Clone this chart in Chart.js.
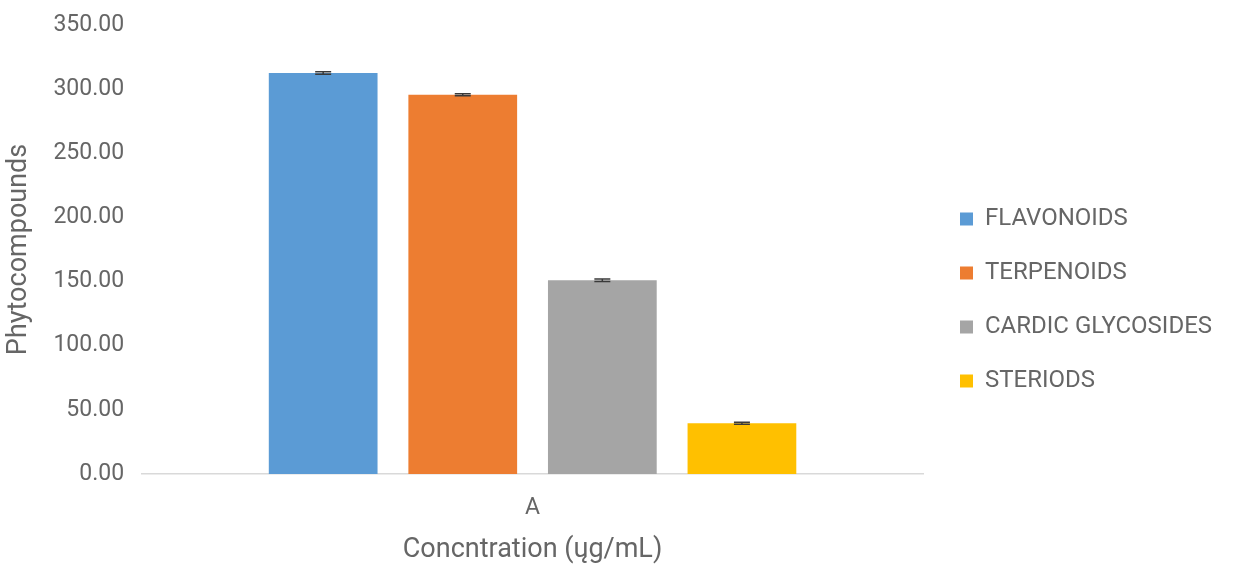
<!DOCTYPE html>
<html>
<head>
<meta charset="utf-8">
<script src="https://cdn.jsdelivr.net/npm/chart.js@4"></script>
<style>
  body { margin: 0; background: #fff; }
  #wrap { width: 1233px; height: 572px; }
</style>
</head>
<body>
<div id="wrap"><canvas id="phytoChart" width="1233" height="572"></canvas></div>
<script>
const categories = ["A"];
const seriesNames = ["FLAVONOIDS", "TERPENOIDS", "CARDIC GLYCOSIDES", "STERIODS"];
const seriesValues = [312.5, 295.5, 151.0, 39.5];
const seriesErrors = [1.0, 0.8, 0.9, 0.8];
const seriesColors = ["#5B9BD5", "#ED7D31", "#A5A5A5", "#FFC000"];
const yTicks = [0, 50, 100, 150, 200, 250, 300, 350];

const textColor = "#666666";

// small error bars on top of each bar
const errorCaps = {
  id: "errorCaps",
  afterDatasetsDraw(chart) {
    const ctx = chart.ctx;
    const yScale = chart.scales.y;
    ctx.save();
    ctx.strokeStyle = "#3a3a3a";
    ctx.lineWidth = 1.5;
    chart.data.datasets.forEach((ds, i) => {
      const meta = chart.getDatasetMeta(i);
      meta.data.forEach((bar, j) => {
        const v = ds.data[j];
        const e = seriesErrors[i];
        const yTop = yScale.getPixelForValue(v + e);
        const yBot = yScale.getPixelForValue(v - e);
        ctx.beginPath();
        ctx.moveTo(bar.x, yTop);
        ctx.lineTo(bar.x, yBot);
        ctx.moveTo(bar.x - 8, yTop);
        ctx.lineTo(bar.x + 8, yTop);
        ctx.moveTo(bar.x - 8, yBot);
        ctx.lineTo(bar.x + 8, yBot);
        ctx.stroke();
      });
    });
    ctx.restore();
  },
};

// fixed legend width, then nudge the legend into place
const legendPlace = {
  id: "legendPlace",
  beforeInit(chart) {
    const fit = chart.legend.fit;
    chart.legend.fit = function () {
      fit.bind(chart.legend)();
      this.width = 310;
    };
  },
  afterLayout(chart) {
    const lg = chart.legend;
    lg.left += 7;
    lg.right += 7;
    lg.top += 17;
    lg.bottom += 17;
  },
};

new Chart(document.getElementById("phytoChart"), {
  type: "bar",
  data: {
    labels: categories,
    datasets: seriesNames.map((name, i) => ({
      label: name,
      data: [seriesValues[i]],
      backgroundColor: seriesColors[i],
      borderWidth: 0,
      categoryPercentage: 0.715,
      barPercentage: 0.779,
    })),
  },
  options: {
    responsive: false,
    animation: false,
    layout: { padding: { top: 0, left: 1, right: 0, bottom: 6 } },
    plugins: {
      tooltip: { enabled: false },
      legend: {
        position: "right",
        labels: {
          boxWidth: 13,
          boxHeight: 13,
          padding: 30,
          color: textColor,
          font: { family: "Roboto", size: 24 },
        },
      },
    },
    scales: {
      x: {
        grid: { display: false, drawTicks: false },
        border: { display: true, color: "#D9D9D9", width: 1.5 },
        ticks: { color: textColor, padding: 20, font: { family: "Roboto", size: 23 } },
        title: {
          display: true,
          text: "Concntration (ųg/mL)",
          color: textColor,
          padding: { top: -8, bottom: 0 },
          font: { family: "Roboto", size: 27 },
        },
      },
      y: {
        min: 0,
        max: 350,
        afterBuildTicks(scale) {
          scale.ticks = yTicks.map((v) => ({ value: v }));
        },
        grid: { display: false, drawTicks: false },
        border: { display: false },
        ticks: {
          color: textColor,
          padding: 18,
          font: { family: "Roboto", size: 23, lineHeight: 0.6 },
          callback: (v) => Number(v).toFixed(2),
        },
        title: {
          display: true,
          text: "Phytocompounds",
          color: textColor,
          padding: { top: 2, bottom: 0 },
          font: { family: "Roboto", size: 27 },
        },
      },
    },
  },
  plugins: [errorCaps, legendPlace],
});
</script>
</body>
</html>
